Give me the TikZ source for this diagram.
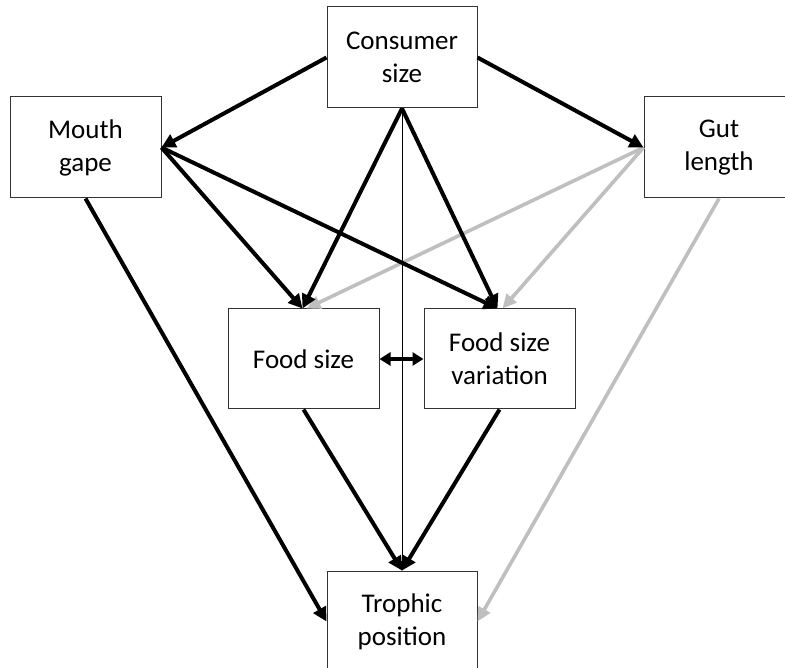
\documentclass[tikz,border=0pt]{standalone}
\usepackage{fontspec}
\setmainfont{Carlito}
\usetikzlibrary{arrows.meta,calc}
\begin{document}
\begin{tikzpicture}[x=1pt,y=-1pt,
  box/.style={draw=black!80,line width=1pt,fill=white,align=center,inner sep=0pt,
    font=\fontsize{27}{33}\selectfont,minimum width=150pt,minimum height=101pt},
  blk/.style={draw=black,line width=4pt,-{Triangle[length=14pt,width=14pt]}},
  gry/.style={draw=black!25,line width=3.6pt,-{Triangle[length=14pt,width=13pt]}},
  thin/.style={draw=black,line width=1pt,-{Triangle[length=10pt,width=9pt]}}]
\useasboundingbox (0,0) rectangle (785,668);
\fill[white] (0,0) rectangle (785,668);
% lines first (below boxes)
\coordinate (csS) at (402,108);
\coordinate (tpN) at (402,571);
\draw[thin] (csS) -- (tpN);
\node[box] (cs) at (402,57.5) {Consumer\\size};
\node[box,minimum width=151pt] (mg) at (85.5,147.5) {Mouth\\gape};
\node[box] (gl) at (719,147.5) {Gut\\length};
\node[box,minimum width=151pt,minimum height=100pt] (fs) at (303.5,359) {Food size};
\node[box,minimum width=151pt,minimum height=100pt] (fsv) at (499.5,359) {Food size\\variation};
\node[box] (tp) at (402,621.5) {Trophic\\position};
% arrows
\draw[gry] (gl.west) -- ($(fs.north)+(3,0)$);
\draw[gry] (gl.west) -- ($(fsv.north)+(3,0)$);
\draw[gry] (gl.south) -- (tp.east);
\draw[blk] (cs.west) -- (mg.east);
\draw[blk] (cs.east) -- (gl.west);
\draw[blk] (cs.south) -- ($(fs.north)+(-1,0)$);
\draw[blk] (cs.south) -- ($(fsv.north)+(-2,0)$);
\draw[blk] (mg.east) -- ($(fs.north)+(-1,0)$);
\draw[blk] (mg.east) -- ($(fsv.north)+(-2,0)$);
\draw[blk] (mg.south) -- (tp.west);
\draw[blk] (fs.south) -- (tp.north);
\draw[blk] (fsv.south) -- (tp.north);
\draw[blk,{Triangle[length=11pt,width=13pt]}-{Triangle[length=11pt,width=13pt]}] (fs.east) -- (fsv.west);
\end{tikzpicture}
\end{document}
